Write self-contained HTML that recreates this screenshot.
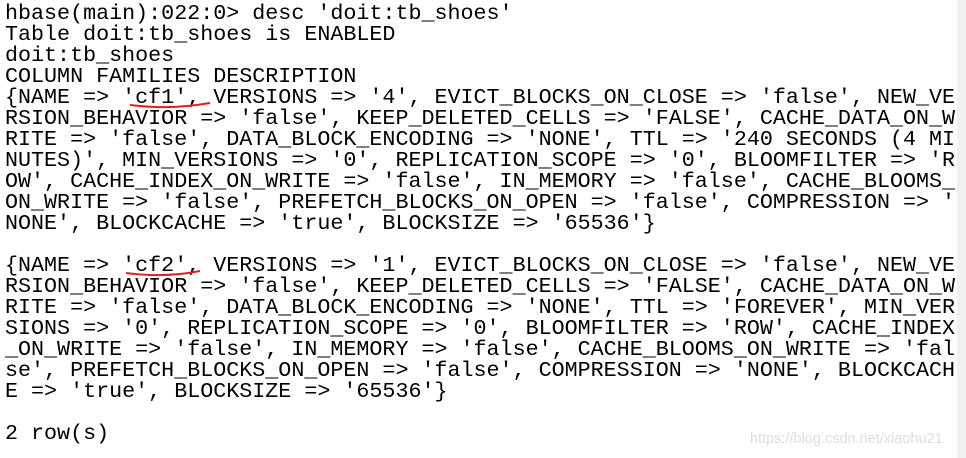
<!DOCTYPE html>
<html><head><style>
html,body{margin:0;padding:0;width:966px;height:458px;background:#fff;overflow:hidden;position:relative}
pre{position:absolute;left:5px;top:3px;margin:0;font-family:"Liberation Mono",monospace;font-size:21.7px;line-height:21px;color:#000;letter-spacing:0}
.strip{position:absolute;left:957px;top:0;width:9px;height:458px;background:#f0f0f0}
.wm{position:absolute;left:750px;top:431px;font-family:"Liberation Sans",sans-serif;font-size:14.5px;color:#ddd}
</style></head><body>
<pre>hbase(main):022:0&gt; desc 'doit:tb_shoes'
Table doit:tb_shoes is ENABLED
doit:tb_shoes
COLUMN FAMILIES DESCRIPTION
{NAME =&gt; 'cf1', VERSIONS =&gt; '4', EVICT_BLOCKS_ON_CLOSE =&gt; 'false', NEW_VE
RSION_BEHAVIOR =&gt; 'false', KEEP_DELETED_CELLS =&gt; 'FALSE', CACHE_DATA_ON_W
RITE =&gt; 'false', DATA_BLOCK_ENCODING =&gt; 'NONE', TTL =&gt; '240 SECONDS (4 MI
NUTES)', MIN_VERSIONS =&gt; '0', REPLICATION_SCOPE =&gt; '0', BLOOMFILTER =&gt; 'R
OW', CACHE_INDEX_ON_WRITE =&gt; 'false', IN_MEMORY =&gt; 'false', CACHE_BLOOMS_
ON_WRITE =&gt; 'false', PREFETCH_BLOCKS_ON_OPEN =&gt; 'false', COMPRESSION =&gt; '
NONE', BLOCKCACHE =&gt; 'true', BLOCKSIZE =&gt; '65536'}

{NAME =&gt; 'cf2', VERSIONS =&gt; '1', EVICT_BLOCKS_ON_CLOSE =&gt; 'false', NEW_VE
RSION_BEHAVIOR =&gt; 'false', KEEP_DELETED_CELLS =&gt; 'FALSE', CACHE_DATA_ON_W
RITE =&gt; 'false', DATA_BLOCK_ENCODING =&gt; 'NONE', TTL =&gt; 'FOREVER', MIN_VER
SIONS =&gt; '0', REPLICATION_SCOPE =&gt; '0', BLOOMFILTER =&gt; 'ROW', CACHE_INDEX
_ON_WRITE =&gt; 'false', IN_MEMORY =&gt; 'false', CACHE_BLOOMS_ON_WRITE =&gt; 'fal
se', PREFETCH_BLOCKS_ON_OPEN =&gt; 'false', COMPRESSION =&gt; 'NONE', BLOCKCACH
E =&gt; 'true', BLOCKSIZE =&gt; '65536'}

2 row(s)</pre>
<svg style="position:absolute;left:0;top:0" width="966" height="458">
<path d="M130 105 Q170 110 210 103" stroke="#e02020" stroke-width="2" fill="none"/>
<path d="M126 273 Q165 278 200 271" stroke="#e02020" stroke-width="2" fill="none"/>
</svg>
<div class="strip"></div>
<div class="wm">https://blog.csdn.net/xiaohu21</div>
</body></html>
